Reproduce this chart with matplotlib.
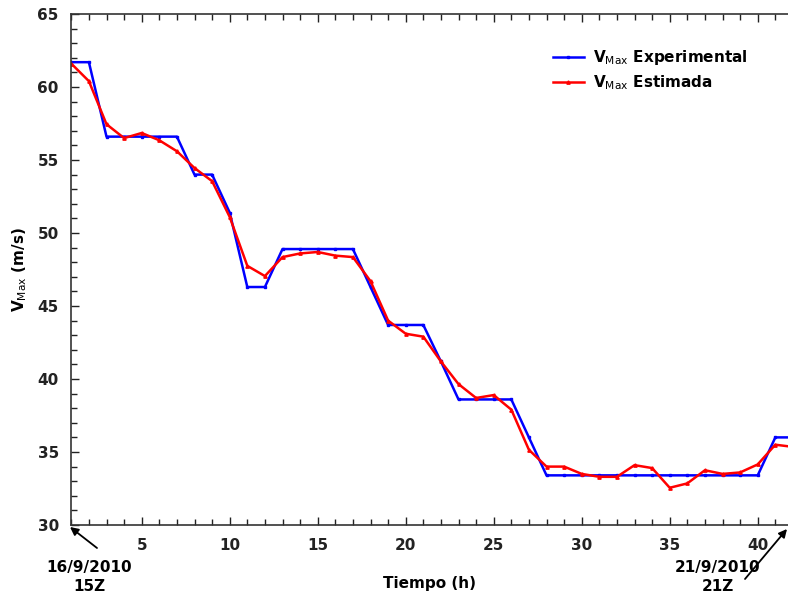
import matplotlib
matplotlib.use("Agg")
import matplotlib.pyplot as plt
from matplotlib.ticker import MultipleLocator

plt.rcParams['font.family'] = ['DejaVu Sans']
plt.rcParams['mathtext.fontset'] = 'dejavusans'

tiempo = list(range(1, 43))
v_experimental = [61.7, 61.7, 56.6, 56.6, 56.6, 56.6, 56.6, 54.0, 54.0, 51.4,
                  46.3, 46.3, 48.9, 48.9, 48.9, 48.9, 48.9, 46.3, 43.7, 43.7,
                  43.7, 41.2, 38.6, 38.6, 38.6, 38.6, 36.0, 33.4, 33.4, 33.4,
                  33.4, 33.4, 33.4, 33.4, 33.4, 33.4, 33.4, 33.4, 33.4, 33.4,
                  36.0, 36.0]
v_estimada = [61.6, 60.4, 57.45, 56.5, 56.85, 56.35, 55.6, 54.45, 53.55, 51.1,
              47.75, 47.05, 48.35, 48.6, 48.7, 48.45, 48.35, 46.7, 44.0, 43.1,
              42.9, 41.2, 39.65, 38.7, 38.9, 37.9, 35.15, 34.0, 34.0, 33.5,
              33.3, 33.3, 34.1, 33.9, 32.55, 32.85, 33.75, 33.5, 33.6, 34.15,
              35.5, 35.35]

fig = plt.figure(figsize=(7.88, 6.03), dpi=100)
ax = fig.add_axes([71.3/788, (603-525)/603, (788-71.3)/788, 511/603])

ax.plot(tiempo, v_experimental, color='#0000ff', lw=1.8, marker='s', ms=1.8,
        label=r'$\mathbf{V}_{\mathrm{Max}}$ Experimental')
ax.plot(tiempo, v_estimada, color='#ff0000', lw=1.8, marker='^', ms=2.4,
        label=r'$\mathbf{V}_{\mathrm{Max}}$ Estimada')

ax.set_xlim(1, 41.72)
ax.set_ylim(30, 65)
ax.xaxis.set_major_locator(MultipleLocator(5))
ax.xaxis.set_minor_locator(MultipleLocator(1))
ax.yaxis.set_major_locator(MultipleLocator(5))
ax.yaxis.set_minor_locator(MultipleLocator(1))
ax.tick_params(which='both', direction='in', top=True, right=False, width=1, colors='#222222')
ax.tick_params(which='major', length=6, labelsize=11, pad=9)
ax.tick_params(which='minor', length=4)
for lab in ax.get_xticklabels() + ax.get_yticklabels():
    lab.set_fontweight('bold')
ax.spines['right'].set_visible(False)
for s in ['left', 'bottom', 'top']:
    ax.spines[s].set_linewidth(1.2)
    ax.spines[s].set_color('#333333')

ax.set_xlabel('Tiempo (h)', fontsize=11, fontweight='bold', labelpad=17)
ax.set_ylabel(r'$\mathbf{V}_{\mathrm{Max}}$ (m/s)', fontsize=11, fontweight='bold', labelpad=6)

leg = ax.legend(loc='upper left', bbox_to_anchor=(553/788, 1 - 48/603),
                bbox_transform=fig.transFigure, frameon=False, fontsize=11,
                handlelength=2.0, handletextpad=0.6, borderpad=0, borderaxespad=0,
                labelspacing=0.4)
for t in leg.get_texts():
    t.set_fontweight('bold')

# date annotations with arrows
arrow_kw = dict(arrowstyle='-|>', color='black', lw=1.3, shrinkA=0, shrinkB=0,
                mutation_scale=12)
fig.text(89/788, 1 - 577/603, '16/9/2010\n15Z', ha='center', va='center',
         fontsize=11, fontweight='bold', linespacing=1.3)
ax.annotate('', xy=(70/788, 1 - 527/603), xycoords='figure fraction',
            xytext=(97/788, 1 - 548/603), textcoords='figure fraction',
            arrowprops=arrow_kw)
fig.text(718/788, 1 - 577/603, '21/9/2010\n21Z', ha='center', va='center',
         fontsize=11, fontweight='bold', linespacing=1.3)
ax.annotate('', xy=(787/788, 1 - 529/603), xycoords='figure fraction',
            xytext=(745/788, 1 - 579/603), textcoords='figure fraction',
            arrowprops=arrow_kw)

fig.savefig('out.png', dpi=100)
